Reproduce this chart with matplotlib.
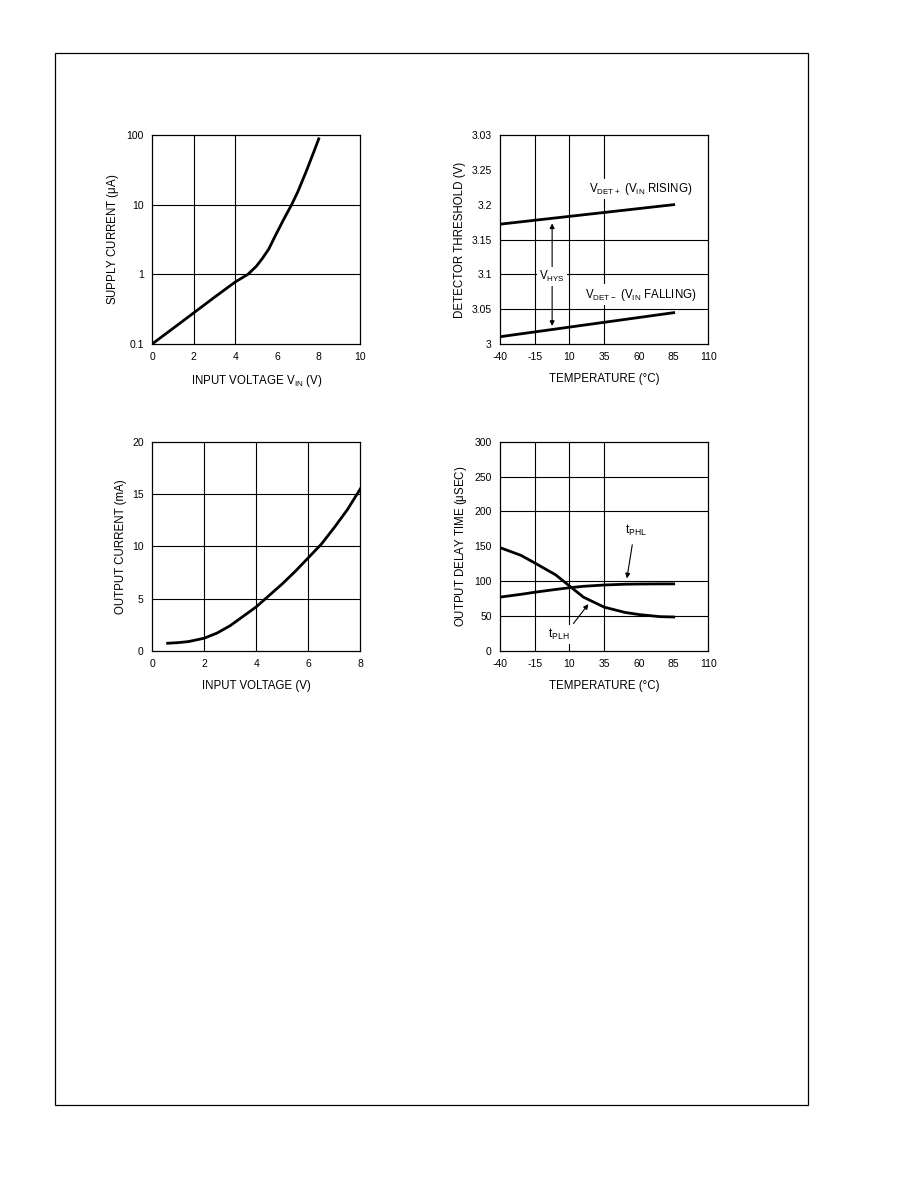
import matplotlib
matplotlib.use('Agg')
import matplotlib.pyplot as plt
from matplotlib.patches import Rectangle

plt.rcParams['font.family'] = ['Liberation Sans', 'DejaVu Sans']
plt.rcParams['mathtext.fontset'] = 'custom'
plt.rcParams['mathtext.rm'] = 'Liberation Sans'

# supply current vs input voltage (log)
vin_supply = [0, 1, 2, 3, 4, 4.6, 5.0, 5.3, 5.6, 5.9, 6.3, 6.7, 7.0, 7.4, 7.8, 8.0]
i_supply = [0.1, 0.167, 0.28, 0.47, 0.78, 1.0, 1.3, 1.7, 2.3, 3.5, 6.0, 10.0, 15.4, 30, 61, 88]

# detector threshold vs temperature
temp_det = [-40, 85]
vdet_rise = [3.172, 3.2]
vdet_fall = [3.0105, 3.045]

# output current vs input voltage
vin_out = [0.6, 1.0, 1.4, 2.0, 2.5, 3.0, 3.5, 4.0, 4.5, 5.0, 5.5, 6.0, 6.5, 7.0, 7.5, 8.0]
i_out = [0.72, 0.78, 0.88, 1.2, 1.7, 2.4, 3.3, 4.2, 5.3, 6.4, 7.6, 8.9, 10.2, 11.8, 13.5, 15.5]

# output delay vs temperature
temp_delay = [-40, -25, -15, 0, 10, 20, 35, 50, 60, 75, 85]
t_phl = [77, 81, 84, 88, 90.5, 92.5, 94.4, 95.5, 95.8, 96, 96]
t_plh = [148, 137, 126, 109, 93, 77, 62.6, 55, 52, 49, 48.5]

temp_ticks = [-40, -15, 10, 35, 60, 85, 110]
temp_labels = ['-40', '-15', '10', '35', '60', '85', '110']

TICK = 7.5
LAB = 8.3
LW = 2.0

fig = plt.figure(figsize=(9.18, 11.88), dpi=100)
fig.patches.append(Rectangle((55 / 918, 1 - 1105 / 1188), 753 / 918, 1052 / 1188,
                             transform=fig.transFigure, fill=False, lw=0.9, ec='k'))

W, H = 0.227, 0.176
ax1 = fig.add_axes([0.1656, 0.7104, W, H])
ax2 = fig.add_axes([0.5447, 0.7104, W, H])
ax3 = fig.add_axes([0.1656, 0.4522, W, H])
ax4 = fig.add_axes([0.5447, 0.4522, W, H])


def style(ax, vgrid, hgrid):
    for s in ax.spines.values():
        s.set_linewidth(0.9)
    ax.tick_params(length=0, labelsize=TICK, pad=6)
    for v in vgrid:
        ax.axvline(v, color='k', lw=0.8, zorder=1)
    for h in hgrid:
        ax.axhline(h, color='k', lw=0.8, zorder=1)


# chart 1
ax1.set_yscale('log')
ax1.plot(vin_supply, i_supply, color='k', lw=LW, zorder=3)
ax1.set_xlim(0, 10)
ax1.set_ylim(0.1, 100)
ax1.set_xticks([0, 2, 4, 6, 8, 10])
ax1.set_yticks([0.1, 1, 10, 100])
ax1.set_yticklabels(['0.1', '1', '10', '100'])
ax1.minorticks_off()
style(ax1, [2, 4], [1, 10])
ax1.set_xlabel(r'INPUT VOLTAGE V$_{\mathregular{IN}}$ (V)', fontsize=LAB, labelpad=8)
ax1.set_ylabel(r'SUPPLY CURRENT ($\mathregular{\mu}$A)', fontsize=LAB, labelpad=4)

# chart 2
ax2.plot(temp_det, vdet_rise, color='k', lw=LW, zorder=3)
ax2.plot(temp_det, vdet_fall, color='k', lw=LW, zorder=3)
ax2.set_xlim(-40, 110)
ax2.set_ylim(3.0, 3.3)
ax2.set_xticks(temp_ticks)
ax2.set_xticklabels(temp_labels)
ax2.set_yticks([3.0, 3.05, 3.1, 3.15, 3.2, 3.25, 3.3])
ax2.set_yticklabels(['3', '3.05', '3.1', '3.15', '3.2', '3.25', '3.03'])
style(ax2, [-15, 10, 35], [3.05, 3.1, 3.15])
ax2.set_xlabel('TEMPERATURE (°C)', fontsize=LAB, labelpad=8)
ax2.set_ylabel('DETECTOR THRESHOLD (V)', fontsize=LAB, labelpad=4)
ax2.annotate('', xy=(-2.5, 3.177), xytext=(-2.5, 3.022),
             arrowprops=dict(arrowstyle='<|-|>', mutation_scale=7, lw=0.8, color='k'), zorder=2)
bb = dict(facecolor='white', edgecolor='none', pad=1.5)
ax2.text(-2.5, 3.097, r'V$_{\mathregular{HYS}}$', fontsize=LAB, ha='center', va='center',
         bbox=bb, zorder=5)
ax2.text(24, 3.222, r'V$_{\mathregular{DET+}}$ (V$_{\mathregular{IN}}$ RISING)', fontsize=LAB,
         ha='left', va='center', bbox=bb, zorder=5)
ax2.text(21, 3.071, r'V$_{\mathregular{DET-}}$ (V$_{\mathregular{IN}}$ FALLING)', fontsize=LAB,
         ha='left', va='center', bbox=bb, zorder=5)

# chart 3
ax3.plot(vin_out, i_out, color='k', lw=LW, zorder=3)
ax3.set_xlim(0, 8)
ax3.set_ylim(0, 20)
ax3.set_xticks([0, 2, 4, 6, 8])
ax3.set_yticks([0, 5, 10, 15, 20])
style(ax3, [2, 4, 6], [5, 10, 15])
ax3.set_xlabel('INPUT VOLTAGE (V)', fontsize=LAB, labelpad=8)
ax3.set_ylabel('OUTPUT CURRENT (mA)', fontsize=LAB, labelpad=4)

# chart 4
ax4.plot(temp_delay, t_phl, color='k', lw=LW, zorder=3)
ax4.plot(temp_delay, t_plh, color='k', lw=LW, zorder=3)
ax4.set_xlim(-40, 110)
ax4.set_ylim(0, 300)
ax4.set_xticks(temp_ticks)
ax4.set_xticklabels(temp_labels)
ax4.set_yticks([0, 50, 100, 150, 200, 250, 300])
style(ax4, [-15, 10, 35], [50, 100, 200, 250])
ax4.set_xlabel('TEMPERATURE (°C)', fontsize=LAB, labelpad=8)
ax4.set_ylabel(r'OUTPUT DELAY TIME ($\mathregular{\mu}$SEC)', fontsize=LAB, labelpad=4)
ax4.annotate('', xy=(51, 100), xytext=(55.5, 156),
             arrowprops=dict(arrowstyle='-|>', mutation_scale=7, lw=0.8, color='k'))
ax4.annotate('', xy=(24.8, 70), xytext=(11.6, 36),
             arrowprops=dict(arrowstyle='-|>', mutation_scale=7, lw=0.8, color='k'))
ax4.text(50, 172, r't$_{\mathregular{PHL}}$', fontsize=LAB + 0.5, ha='left', va='center',
         bbox=bb, zorder=5)
ax4.text(2, 23, r't$_{\mathregular{PLH}}$', fontsize=LAB + 0.5, ha='center', va='center',
         bbox=bb, zorder=5)

fig.savefig('out.png', dpi=100)
